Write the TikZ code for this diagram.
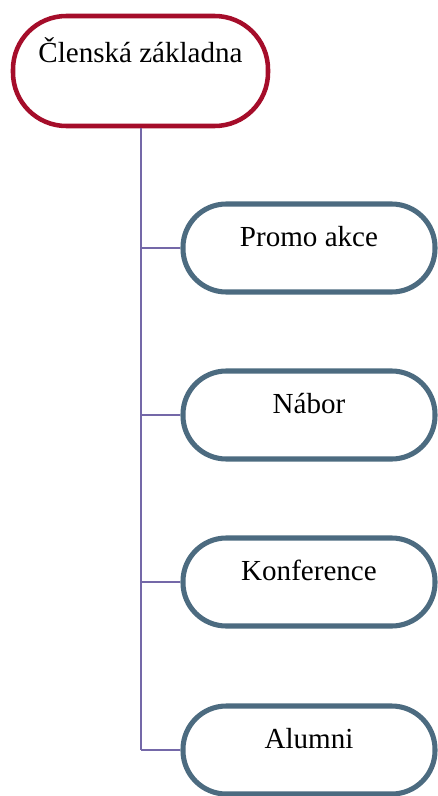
\documentclass[tikz,border=0pt]{standalone}
\usepackage{fontspec}
\setmainfont{Liberation Serif}
\definecolor{rootred}{HTML}{A50D2A}
\definecolor{childblue}{HTML}{4C6B80}
\definecolor{linkpurple}{HTML}{7468A8}
\begin{document}
\begin{tikzpicture}[x=0.75pt,y=-0.75pt,
  rootbox/.style={draw=rootred,line width=3.4pt,fill=white,rounded corners=40pt,
    minimum width=191.25pt,minimum height=82.5pt,inner sep=0pt,
    text height=15pt,text depth=28.5pt,font=\fontsize{21.8pt}{26pt}\selectfont},
  childbox/.style={draw=childblue,line width=3.8pt,fill=white,rounded corners=32.5pt,
    minimum width=189pt,minimum height=66pt,inner sep=0pt,
    text height=19pt,text depth=21.25pt,font=\fontsize{21.8pt}{26pt}\selectfont},
  link/.style={draw=linkpurple,line width=1.1pt}]
\useasboundingbox (0,0) rectangle (438,796);
\coordinate (trunk) at (141,750);
\node[rootbox] (root) at (140.5,71) {Členská základna};
\node[childbox] (c1) at (309,248) {Promo akce};
\node[childbox] (c2) at (309,415) {Nábor};
\node[childbox] (c3) at (309,582) {Konference};
\node[childbox] (c4) at (309,750) {Alumni};
\draw[link] (root.south -| trunk) -- (trunk);
\draw[link] (c1.west) -- (c1.west -| trunk);
\draw[link] (c2.west) -- (c2.west -| trunk);
\draw[link] (c3.west) -- (c3.west -| trunk);
\draw[link] (c4.west) -- (trunk);
\end{tikzpicture}
\end{document}
